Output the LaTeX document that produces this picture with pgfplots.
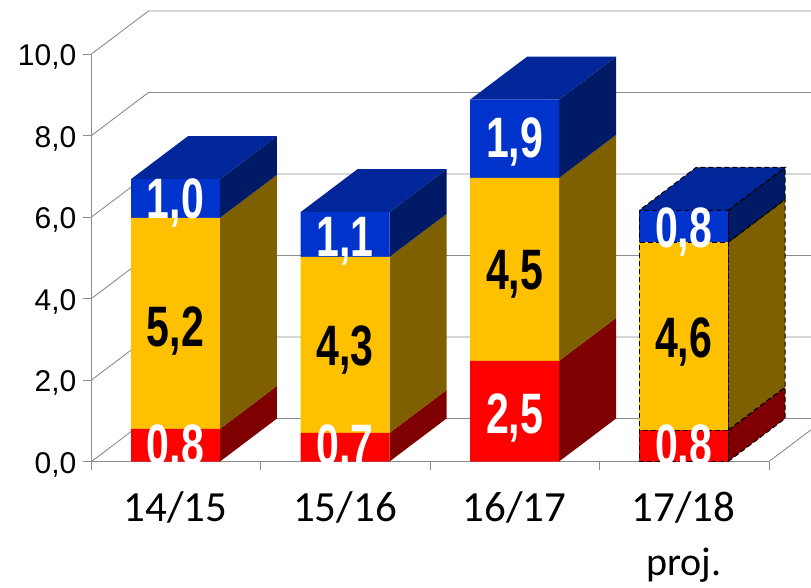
\documentclass[border=0pt]{standalone}
\usepackage{pgfplots}
\pgfplotsset{compat=1.18}
\usepackage{fontspec}
\setmainfont{Liberation Sans}
\newfontfamily\carlito{Carlito}
\definecolor{cred}{HTML}{FF0000}
\definecolor{cyel}{HTML}{FFC000}
\definecolor{cblu}{HTML}{0033CC}
\definecolor{sred}{HTML}{7F0000}
\definecolor{syel}{HTML}{7F6000}
\definecolor{sblu}{HTML}{001A66}
\definecolor{tblu}{HTML}{002699}
\definecolor{cgrid}{HTML}{8C8C8C}
\newcommand\lab[1]{\scalebox{0.72}[1]{\fontsize{57}{57}\selectfont\bfseries #1}}
\pgfplotsset{
  base/.style={
    at={(91.5pt,125.5pt)}, anchor=south west,
    scale only axis, width=677.5pt, height=407.5pt,
    xmin=0, xmax=4, ymin=0, ymax=10, clip=false},
  stack/.style={base, hide axis, ybar stacked, bar width=0.525},
  g/.style={cgrid, line width=0.9pt},
  d4/.style={draw=black, dash pattern=on 5pt off 3pt, line width=1.1pt},
}
\begin{document}
\begin{tikzpicture}
\path[use as bounding box] (0,0) rectangle (811pt,587pt);
\begin{axis}[base,
  axis x line*=bottom, axis y line*=left,
  axis line style={cgrid, line width=0.9pt, -},
  tick style={cgrid, line width=0.9pt},
  tick align=outside,
  major tick length=8pt, minor tick length=8pt,
  major x tick style={draw=none},
  ytick={0,2,4,6,8,10},
  yticklabels={{0,0},{2,0},{4,0},{6,0},{8,0},{10,0}},
  yticklabel style={font=\fontsize{30}{30}\selectfont, inner sep=0pt, xshift=-7pt, yshift=-3pt},
  xtick={0.496,1.497,2.498,3.496},
  minor xtick={0,1,2,3,4},
  xticklabels={14/15,15/16,16/17,{17/18\\{\fontsize{40}{40}\selectfont proj.}}},
  xticklabel style={font=\fontsize{43}{54}\selectfont\carlito, align=center, inner sep=0pt, yshift=-22pt},
]
% walls and floor
\addplot[g] coordinates {(0,0)(0.3365,1.055)(4.248,1.055)};
\addplot[g] coordinates {(0,2)(0.3365,3.055)(4.248,3.055)};
\addplot[g] coordinates {(0,4)(0.3365,5.055)(4.248,5.055)};
\addplot[g] coordinates {(0,6)(0.3365,7.055)(4.248,7.055)};
\addplot[g] coordinates {(0,8)(0.3365,9.055)(4.248,9.055)};
\addplot[g] coordinates {(0,10)(0.3365,11.055)(4.248,11.055)};
\addplot[g] coordinates {(4,0)(4.248,0.778)};
% bar 1 sides and top
\addplot[fill=sred,draw=none] coordinates {(0.7585,0)(1.095,1.055)(1.095,1.855)(0.7585,0.8)};
\addplot[fill=syel,draw=none] coordinates {(0.7585,0.8)(1.095,1.855)(1.095,7.035)(0.7585,5.98)};
\addplot[fill=sblu,draw=none] coordinates {(0.7585,5.98)(1.095,7.035)(1.095,7.985)(0.7585,6.93)};
\addplot[fill=tblu,draw=none] coordinates {(0.2335,6.93)(0.7585,6.93)(1.095,7.985)(0.57,7.985)};
% bar 2
\addplot[fill=sred,draw=none] coordinates {(1.7595,0)(2.096,1.055)(2.096,1.755)(1.7595,0.7)};
\addplot[fill=syel,draw=none] coordinates {(1.7595,0.7)(2.096,1.755)(2.096,6.075)(1.7595,5.02)};
\addplot[fill=sblu,draw=none] coordinates {(1.7595,5.02)(2.096,6.075)(2.096,7.175)(1.7595,6.12)};
\addplot[fill=tblu,draw=none] coordinates {(1.2345,6.12)(1.7595,6.12)(2.096,7.175)(1.571,7.175)};
% bar 3
\addplot[fill=sred,draw=none] coordinates {(2.7605,0)(3.097,1.055)(3.097,3.525)(2.7605,2.47)};
\addplot[fill=syel,draw=none] coordinates {(2.7605,2.47)(3.097,3.525)(3.097,8.015)(2.7605,6.96)};
\addplot[fill=sblu,draw=none] coordinates {(2.7605,6.96)(3.097,8.015)(3.097,9.935)(2.7605,8.88)};
\addplot[fill=tblu,draw=none] coordinates {(2.2355,8.88)(2.7605,8.88)(3.097,9.935)(2.572,9.935)};
% bar 4
\addplot[fill=sred,d4] coordinates {(3.7585,0)(4.095,1.055)(4.095,1.825)(3.7585,0.77)(3.7585,0)};
\addplot[fill=syel,d4] coordinates {(3.7585,0.77)(4.095,1.825)(4.095,6.435)(3.7585,5.38)(3.7585,0.77)};
\addplot[fill=sblu,d4] coordinates {(3.7585,5.38)(4.095,6.435)(4.095,7.215)(3.7585,6.16)(3.7585,5.38)};
\addplot[fill=tblu,d4] coordinates {(3.2335,6.16)(3.7585,6.16)(4.095,7.215)(3.57,7.215)(3.2335,6.16)};
\end{axis}
\begin{axis}[stack]
\addplot[fill=cred,draw=none] coordinates {(0.496,0.8)(1.497,0.7)(2.498,2.47)};
\addplot[fill=cyel,draw=none] coordinates {(0.496,5.18)(1.497,4.32)(2.498,4.49)};
\addplot[fill=cblu,draw=none] coordinates {(0.496,0.95)(1.497,1.1)(2.498,1.92)};
\end{axis}
\begin{axis}[stack]
\addplot[fill=cred,d4] coordinates {(3.496,0.77)};
\addplot[fill=cyel,d4] coordinates {(3.496,4.61)};
\addplot[fill=cblu,d4] coordinates {(3.496,0.78)};
\end{axis}
\begin{axis}[base, hide axis]
\node[anchor=base,white,inner sep=0pt] at (axis cs:0.496,-0.08) {\lab{0,8}};
\node[anchor=base,black,inner sep=0pt] at (axis cs:0.496,2.81) {\lab{5,2}};
\node[anchor=base,white,inner sep=0pt] at (axis cs:0.496,5.975) {\lab{1,0}};
\node[anchor=base,white,inner sep=0pt] at (axis cs:1.497,-0.08) {\lab{0,7}};
\node[anchor=base,black,inner sep=0pt] at (axis cs:1.497,2.36) {\lab{4,3}};
\node[anchor=base,white,inner sep=0pt] at (axis cs:1.497,5.02) {\lab{1,1}};
\node[anchor=base,white,inner sep=0pt] at (axis cs:2.498,0.68) {\lab{2,5}};
\node[anchor=base,black,inner sep=0pt] at (axis cs:2.498,4.23) {\lab{4,5}};
\node[anchor=base,white,inner sep=0pt] at (axis cs:2.498,7.45) {\lab{1,9}};
\node[anchor=base,white,inner sep=0pt] at (axis cs:3.496,-0.08) {\lab{0,8}};
\node[anchor=base,black,inner sep=0pt] at (axis cs:3.496,2.55) {\lab{4,6}};
\node[anchor=base,white,inner sep=0pt] at (axis cs:3.496,5.26) {\lab{0,8}};
\end{axis}
\end{tikzpicture}
\end{document}
